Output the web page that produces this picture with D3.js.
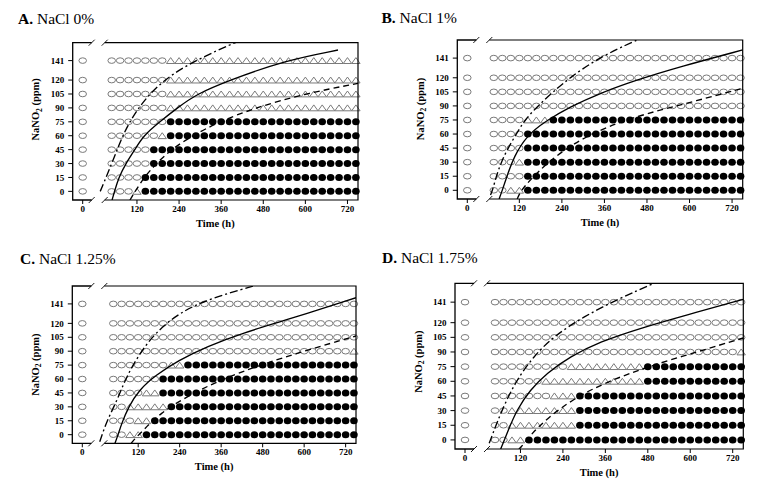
<!DOCTYPE html>
<html><head><meta charset="utf-8">
<script src="https://cdn.jsdelivr.net/npm/d3@7"></script>
<style>body{margin:0;background:#fff}text{font-family:"Liberation Serif","Times New Roman",serif}</style>
</head><body><svg id="c" width="766" height="491"></svg>
<script>
// ---------- data ----------
const timePoints = [0,48,72,96,120,144,168,192,216,240,264,288,312,336,360,384,408,432,456,480,504,528,552,576,600,624,648,672,696,720,744];
const concentrations = [0,15,30,45,60,75,90,105,120,141];
const xTickValues = [0,120,240,360,480,600,720];
const panelLetters = ["A.","B.","C.","D."];
const panelNames = ["NaCl 0%","NaCl 1%","NaCl 1.25%","NaCl 1.75%"];
// growth state per concentration row (o = open circle, t = triangle, f = filled), one char per time point
const statesA = [
 "oooo tfff ffff ffff ffff ffff ffff fff",
 "oooo offf ffff ffff ffff ffff ffff fff",
 "oooo ooff ffff ffff ffff ffff ffff fff",
 "oooo ooff ffff ffff ffff ffff ffff fff",
 "oooo ooot ffff ffff ffff ffff ffff fff",
 "oooo oooo ffff ffff ffff ffff ffff fff",
 "oooo oooo tttt tttt tttt tttt tttt ttt",
 "oooo oooo tttt tttt tttt tttt tttt ttt",
 "oooo oooo tttt tttt tttt tttt tttt ttt",
 "oooo oooo tttt tttt tttt tttt tttt ttt"];
const statesB = [
 "ooot tfff ffff ffff ffff ffff ffff fff",
 "oooo offf ffff ffff ffff ffff ffff fff",
 "oooo tfff ffff ffff ffff ffff ffff fff",
 "oooo offf ffff ffff ffff ffff ffff fff",
 "oooo offf ffff ffff ffff ffff ffff fff",
 "oooo ottt ffff ffff ffff ffff ffff fff",
 "oooo oooo oooo oooo oooo oooo oooo ooo",
 "oooo oooo oooo oooo oooo oooo oooo ooo",
 "oooo oooo oooo oooo oooo oooo oooo ooo",
 "oooo oooo oooo oooo oooo oooo oooo ooo"];
const statesC = [
 "ooot tfff ffff ffff ffff ffff ffff fff",
 "oooo ttff ffff ffff ffff ffff ffff fff",
 "ooot tttt ffff ffff ffff ffff ffff fff",
 "oooo ottf ffff ffff ffff ffff ffff fff",
 "oooo ooof ffff ffff ffff ffff ffff fff",
 "oooo oooo ttff ffff ffff ffff ffff fff",
 "oooo oooo oooo oooo oooo oooo oooo oot",
 "oooo oooo oooo oooo oooo oooo oooo ooo",
 "oooo oooo oooo oooo oooo oooo oooo ooo",
 "oooo oooo oooo oooo oooo oooo oooo ooo"];
const statesD = [
 "ooot tfff ffff ffff ffff ffff ffff fff",
 "ooot tttt tttf ffff ffff ffff ffff fff",
 "ooot tttt tttf ffff ffff ffff ffff fff",
 "oooo oooo tttf ffff ffff ffff ffff fff",
 "oooo ooot tttt tttt tttf ffff ffff fff",
 "oooo oooo oott tttt tttf ffff ffff fff",
 "oooo oooo oooo oooo oooo oooo oooo oot",
 "oooo oooo oooo oooo oooo oooo oooo ooo",
 "oooo oooo oooo oooo oooo oooo oooo ooo",
 "oooo oooo oooo oooo oooo oooo oooo ooo"];
// fitted curves: [time h, NaNO2 ppm]
const dashDotA = [[29,0],[52.6,33.8],[81,62.6],[119,87.7],[166,109.3],[223,127.3],[300,143.5],[394,159.7],[420,163]];
const solidA   = [[49,-9.3],[56,0],[68,15],[88,30],[114,45],[138,60],[185,75],[235,90],[290,105],[385,120],[540,141],[693,152.4]];
const dashedA  = [[100,-9.3],[115,0],[140,15],[175,30],[217,45],[278,60],[354,75],[456,90],[595,105],[750,116.5]];
const dashDotB = [[42,-5],[45.7,0],[55,15],[69,30],[88,45],[111.5,60],[135,75],[172.6,90],[215,105],[262,120],[342,141],[451,160.3],[470,163]];
const solidB   = [[63,-9.3],[72,0],[85,15],[105,36],[140,58],[195,74],[263,89],[347,103.5],[451,117.7],[573,131.8],[750,149.7]];
const dashedB  = [[114,-9.3],[125,0],[151,11],[197,28.8],[272,50.1],[366,67.8],[479,82.1],[611,94.5],[750,108.9]];
const dashDotC = [[27,-7.6],[38,15],[58,36],[85,62],[125,88],[170,110],[240,132],[330,147],[453,160.2],[480,163]];
const solidC   = [[52,-10],[62,0],[72,12],[92,30],[122,48],[170,64],[236,80],[318,95],[425,110],[552,124],[750,147.7]];
const dashedC  = [[100,-9.3],[104,-7],[135,5],[183,23],[260,41],[357,59],[472,75],[607,91],[750,106.4]];
const dashDotD = [[38.7,-3.5],[52.8,17],[76.3,37.5],[109.4,61.3],[156.3,85.2],[212.8,105.7],[297.6,126.1],[401.4,145],[495.6,160.3],[520,163]];
const solidD   = [[64,-9.3],[66.9,-7],[85.6,10.1],[109.4,30.6],[147,51.1],[194.2,68.2],[260,85.2],[344.9,100.5],[458,114.3],[590,127.9],[750,143.9]];
const dashedD  = [[115,-9.3],[118.7,-9],[147,4.6],[194.2,21.7],[269.4,42.2],[363.8,59.3],[476.9,74.6],[618.3,90],[750,104.3]];

// ---------- layout ----------
const layout = [
 {L:72.7, R:358,   T:42.7,  B:200,   x48:39,   tx:18,    ty:24,    ylab:-12},
 {L:457.3,R:742.7, T:40,    B:199,   x48:36.5, tx:381.5, ty:23,    ylab:-10.5},
 {L:72.3, R:356,   T:286,   B:443.3, x48:41,   tx:20,    ty:263.5, ylab:0},
 {L:455,  R:743.3, T:283.3, B:449,   x48:40,   tx:382,   ty:263,   ylab:-4.5}];
const panelStates = [statesA, statesB, statesC, statesD];
const panelCurves = [[dashDotA,solidA,dashedA],[dashDotB,solidB,dashedB],[dashDotC,solidC,dashedC],[dashDotD,solidD,dashedD]];
const curveDash = ["8,3,2,3", null, "6,4"];
const GRAY = "#7a7a7a";

const svg = d3.select("#c");
svg.append("rect").attr("width",766).attr("height",491).attr("fill","#fff");

layout.forEach((p, pi) => {
  const g = svg.append("g");
  const x = d3.scaleLinear().domain([0,48,750]).range([p.L+10, p.L+p.x48, p.R]);
  const y = d3.scaleLinear().domain([-9.3,160.3]).range([p.B, p.T]);

  // title
  const tt = g.append("text").attr("x",p.tx).attr("y",p.ty).attr("font-size",15.5).attr("fill","#000");
  tt.append("tspan").attr("font-weight","bold").text(panelLetters[pi]);
  tt.append("tspan").text(" " + panelNames[pi]);

  // symbols
  const states = panelStates[pi];
  concentrations.forEach((c, ri) => {
    const s = states[ri].replace(/ /g,"");
    const cy = y(c);
    timePoints.forEach((t, ti) => {
      const ch = s[ti];
      const cx = x(t);
      if (ch === "o") {
        g.append("ellipse").attr("cx",cx).attr("cy",cy).attr("rx",3.8).attr("ry",2.8)
          .attr("fill","#fff").attr("stroke",GRAY).attr("stroke-width",1);
      } else if (ch === "t") {
        g.append("path").attr("d",`M${cx-4.2},${cy+2.9}L${cx+4.2},${cy+2.9}L${cx},${cy-3}Z`)
          .attr("fill","#fff").attr("stroke",GRAY).attr("stroke-width",1);
      } else if (ch === "f") {
        g.append("ellipse").attr("cx",cx).attr("cy",cy).attr("rx",3.8).attr("ry",3.5).attr("fill","#000");
      }
    });
  });

  // curves
  const clipId = "clip"+pi;
  svg.append("clipPath").attr("id",clipId).append("rect")
    .attr("x",p.L).attr("y",p.T).attr("width",p.R-p.L).attr("height",p.B-p.T);
  const line = d3.line().x(d=>x(d[0])).y(d=>y(d[1])).curve(d3.curveBasis);
  panelCurves[pi].forEach((cv, ci) => {
    g.append("path").attr("d",line(cv)).attr("fill","none").attr("stroke","#000")
      .attr("stroke-width",1.35).attr("clip-path",`url(#${clipId})`)
      .attr("stroke-dasharray",curveDash[ci]);
  });

  // frame with axis breaks
  const b1 = p.L+19, b2 = p.L+32;
  g.append("path").attr("d",`M${b1},${p.T}L${p.L},${p.T}L${p.L},${p.B}L${b1},${p.B}`).attr("fill","none").attr("stroke","#000").attr("stroke-width",1.3);
  g.append("path").attr("d",`M${b2},${p.T}L${p.R},${p.T}L${p.R},${p.B}L${b2},${p.B}`).attr("fill","none").attr("stroke","#000").attr("stroke-width",1.2);
  [p.T, p.B].forEach(yy => {
    [p.L+16, p.L+29].forEach(xx => {
      g.append("line").attr("x1",xx).attr("y1",yy+3).attr("x2",xx+6).attr("y2",yy-3)
        .attr("stroke","#000").attr("stroke-width",0.9);
    });
  });

  // x axis ticks
  xTickValues.forEach(v => {
    g.append("line").attr("x1",x(v)).attr("x2",x(v)).attr("y1",p.B).attr("y2",p.B+4).attr("stroke","#000").attr("stroke-width",1);
    g.append("text").attr("x",x(v)).attr("y",p.B+11.5).attr("text-anchor","middle")
      .attr("font-size",9).attr("font-weight","bold").text(v);
  });
  // y axis ticks
  concentrations.forEach(c => {
    g.append("line").attr("x1",p.L-4.5).attr("x2",p.L).attr("y1",y(c)).attr("y2",y(c)).attr("stroke","#000").attr("stroke-width",1);
    g.append("text").attr("x",p.L-8.5).attr("y",y(c)).attr("dy","0.35em").attr("text-anchor","end")
      .attr("font-size",9).attr("font-weight","bold").text(c);
  });
  // axis titles
  g.append("text").attr("x",(p.L+p.R)/2).attr("y",p.B+26.5).attr("text-anchor","middle")
    .attr("font-size",10.5).attr("font-weight","bold").text("Time (h)");
  const ycx = p.L-37, ycy = (p.T+p.B)/2 + p.ylab;
  const yl = g.append("text").attr("transform",`translate(${ycx},${ycy}) rotate(-90)`)
    .attr("text-anchor","middle").attr("font-size",10.5).attr("font-weight","bold").attr("dy","0.35em");
  yl.append("tspan").text("NaNO");
  yl.append("tspan").attr("font-size",7.5).attr("dy","2.5").text("2");
  yl.append("tspan").attr("dy","-2.5").text(" (ppm)");
});
</script>
</body></html>
